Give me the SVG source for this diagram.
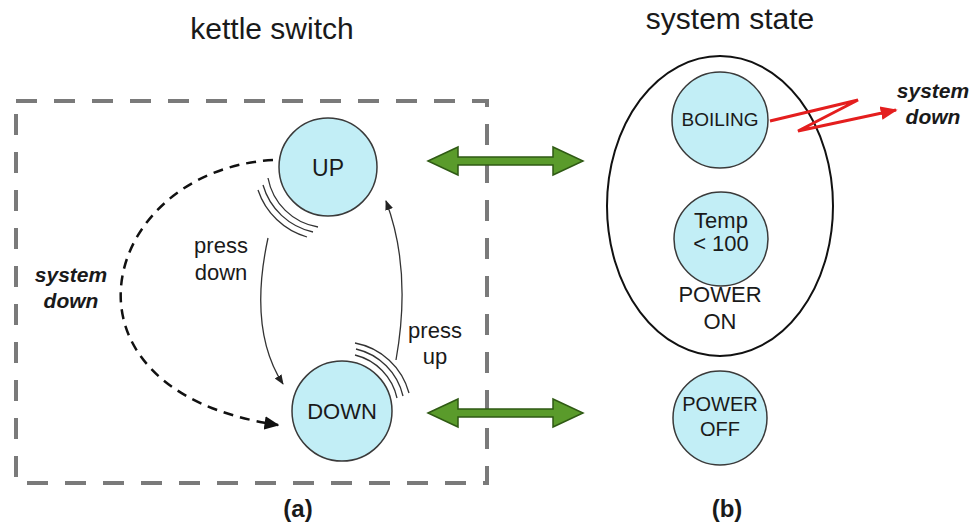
<svg xmlns="http://www.w3.org/2000/svg" width="976" height="527" viewBox="0 0 976 527">
<defs>
<style>
text{font-family:"Liberation Sans",Arial,sans-serif;fill:#1a1a1a;text-anchor:middle}
.node{fill:#c2eef6;stroke:#3a3a3a;stroke-width:1.5}
.lbl{font-size:22px}
.title{font-size:30px}
.bi{font-weight:bold;font-style:italic;font-size:21px}
.thin{fill:none;stroke:#333;stroke-width:1.3}
.green{fill:#5a9b2b;stroke:#2f5a14;stroke-width:1.5}
</style>
<marker id="ah" viewBox="0 0 10 10" refX="9" refY="5" markerWidth="10" markerHeight="10" markerUnits="userSpaceOnUse" orient="auto"><path d="M0,1 L10,5 L0,9 Z" fill="#222"/></marker>
<marker id="ahb" viewBox="0 0 10 10" refX="9" refY="5" markerWidth="15" markerHeight="15" markerUnits="userSpaceOnUse" orient="auto"><path d="M0,0.5 L10,5 L0,9.5 Z" fill="#111"/></marker>
<marker id="ahr" viewBox="0 0 10 10" refX="9" refY="5" markerWidth="17" markerHeight="17" markerUnits="userSpaceOnUse" orient="auto"><path d="M0,1 L10,5 L0,9 Z" fill="#e41e1e"/></marker>
</defs>
<rect width="976" height="527" fill="#fff"/>
<text class="title" x="272" y="39">kettle switch</text>
<text class="title" x="730" y="29">system state</text>
<rect x="16" y="101" width="471" height="382" fill="none" stroke="#7a7a7a" stroke-width="4" stroke-dasharray="21 17"/>
<ellipse cx="720" cy="206" rx="113" ry="150" fill="none" stroke="#111" stroke-width="2"/>
<g id="connectors">
<path d="M273,160 C100,170 40,390 278,425" fill="none" stroke="#111" stroke-width="2.5" stroke-dasharray="10 7" marker-end="url(#ahb)"/>
<path d="M268,238 Q248,330 283,384" class="thin" marker-end="url(#ah)"/>
<path d="M396,360 Q412,270 386,201" class="thin" marker-end="url(#ah)"/>
<path d="M268,178 A61,61 0 0 0 318,227 M263,185 A67,67 0 0 0 313,232 M258,190 A73,73 0 0 0 307,237" class="thin"/>
<path d="M355,355 A57,57 0 0 1 397,398 M356,349 A63,63 0 0 1 403,396 M355,343 A69,69 0 0 1 409,393" class="thin"/>
<path class="green" d="M428,161 L458,147 L458,157 L553,157 L553,147 L583,161 L553,175 L553,165 L458,165 L458,175 Z"/>
<path class="green" d="M428,413 L458,399 L458,409 L553,409 L553,399 L583,413 L553,427 L553,417 L458,417 L458,427 Z"/>
<path d="M770,121 L858,100 L798,131 L896,110" fill="none" stroke="#e41e1e" stroke-width="3" marker-end="url(#ahr)"/>
</g>
<g id="up"><circle class="node" cx="328" cy="167" r="49"/><text x="328" y="176" style="font-size:23px">UP</text></g>
<g id="down"><circle class="node" cx="342" cy="411" r="50"/><text class="lbl" x="342" y="419">DOWN</text></g>
<g id="boiling"><circle class="node" cx="720" cy="120" r="48"/><text x="720" y="126" style="font-size:19px">BOILING</text></g>
<g id="temp"><circle class="node" cx="721" cy="239" r="47"/><text class="lbl" x="721" y="228">Temp</text><text class="lbl" x="721" y="251">&lt; 100</text></g>
<g id="poweron"><text class="lbl" x="720" y="302">POWER</text><text class="lbl" x="720" y="329">ON</text></g>
<g id="poweroff"><circle class="node" cx="720" cy="418" r="47"/><text x="720" y="411" style="font-size:20px">POWER</text><text x="720" y="436" style="font-size:20px">OFF</text></g>
<text class="lbl" x="221" y="253">press</text>
<text class="lbl" x="221" y="280">down</text>
<text class="lbl" x="435" y="338">press</text>
<text class="lbl" x="435" y="364">up</text>
<text class="bi" x="71" y="282">system</text>
<text class="bi" x="71" y="308">down</text>
<text class="bi" x="933" y="98">system</text>
<text class="bi" x="933" y="124">down</text>
<text x="298" y="517" style="font-size:24px;font-weight:bold">(a)</text>
<text x="727" y="517" style="font-size:24px;font-weight:bold">(b)</text>
</svg>
